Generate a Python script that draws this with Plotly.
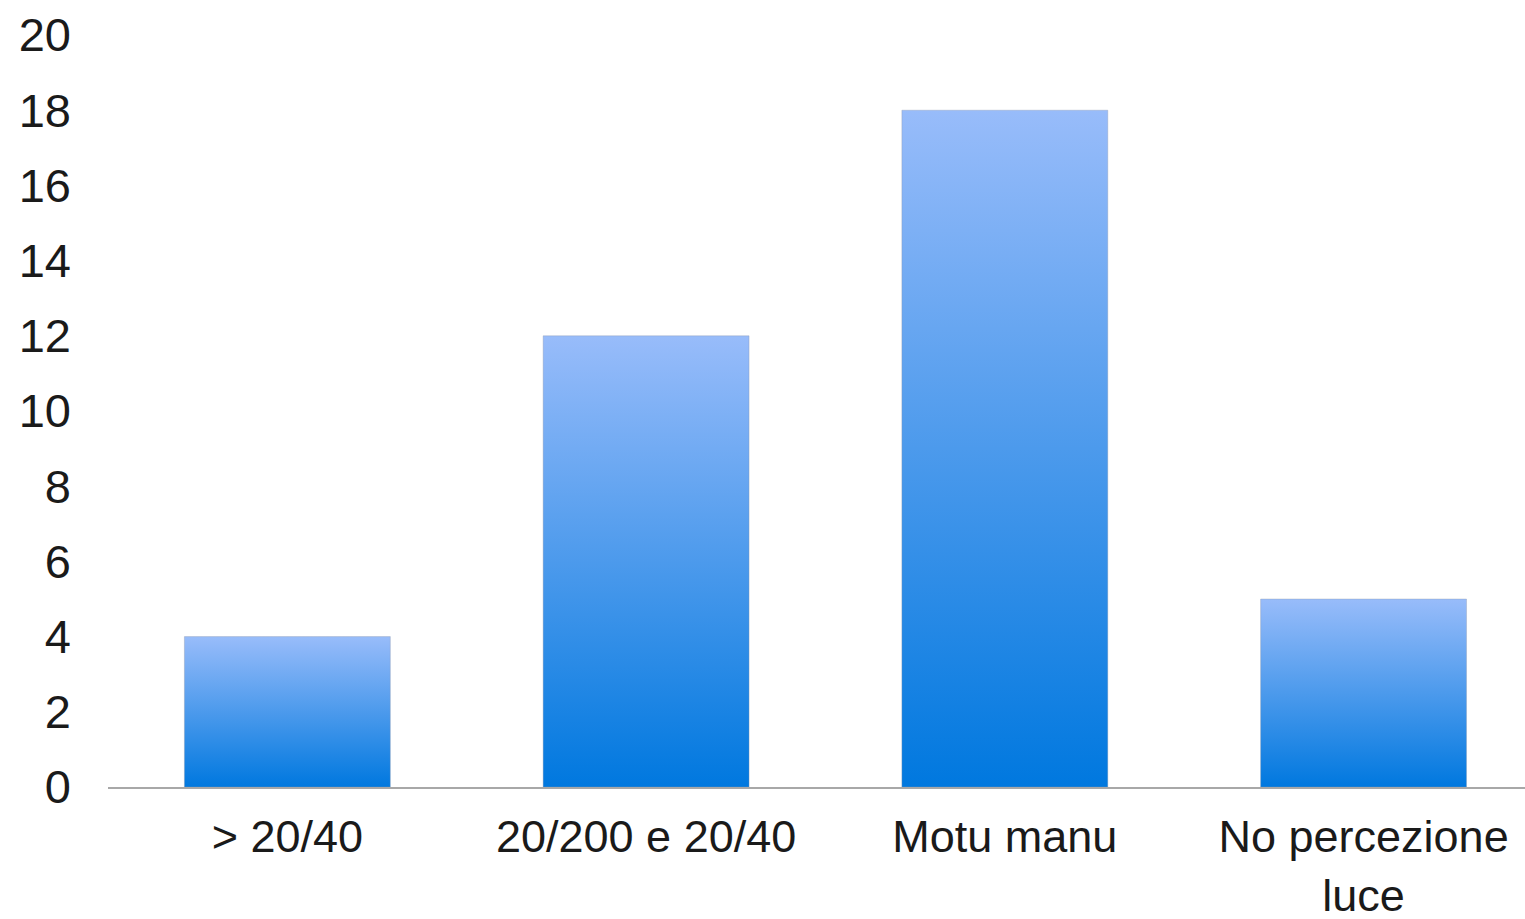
import plotly.graph_objects as go

categories = ["> 20/40", "20/200 e 20/40", "Motu manu", "No percezione<br>luce"]
values = [4, 12, 18, 5]
y_ticks = [0, 2, 4, 6, 8, 10, 12, 14, 16, 18, 20]

half = 0.287
fig = go.Figure()
for i, v in enumerate(values):
    fig.add_trace(go.Scatter(
        x=[i - half, i + half, i + half, i - half, i - half],
        y=[0, 0, v, v, 0],
        mode="lines",
        line=dict(width=1, color="rgba(140,150,170,0.35)"),
        fill="toself",
        fillgradient=dict(type="vertical",
                          colorscale=[[0, "#0078DF"], [0.5, "#4C9AEC"], [1, "#98BCFA"]]),
        showlegend=False,
        hoverinfo="skip",
    ))

fig.update_layout(
    width=1525, height=919,
    margin=dict(l=108, r=0, t=35, b=132),
    paper_bgcolor="white", plot_bgcolor="white",
    font=dict(family="Liberation Sans, Arial, sans-serif", size=47, color="#1a1a1a"),
    xaxis=dict(range=[-0.5, 3.45], tickvals=list(range(len(categories))), ticktext=categories,
               showgrid=False, zeroline=False, showline=True, linecolor="#A8A8A8", linewidth=2,
               ticks="", ticklabelstandoff=9, automargin=False, tickfont=dict(size=45)),
    yaxis=dict(range=[0, 20], tickvals=y_ticks, showgrid=False, zeroline=False, showline=False,
               ticks="", ticklabelstandoff=36, automargin=False),
)
fig.write_html("out.html")
